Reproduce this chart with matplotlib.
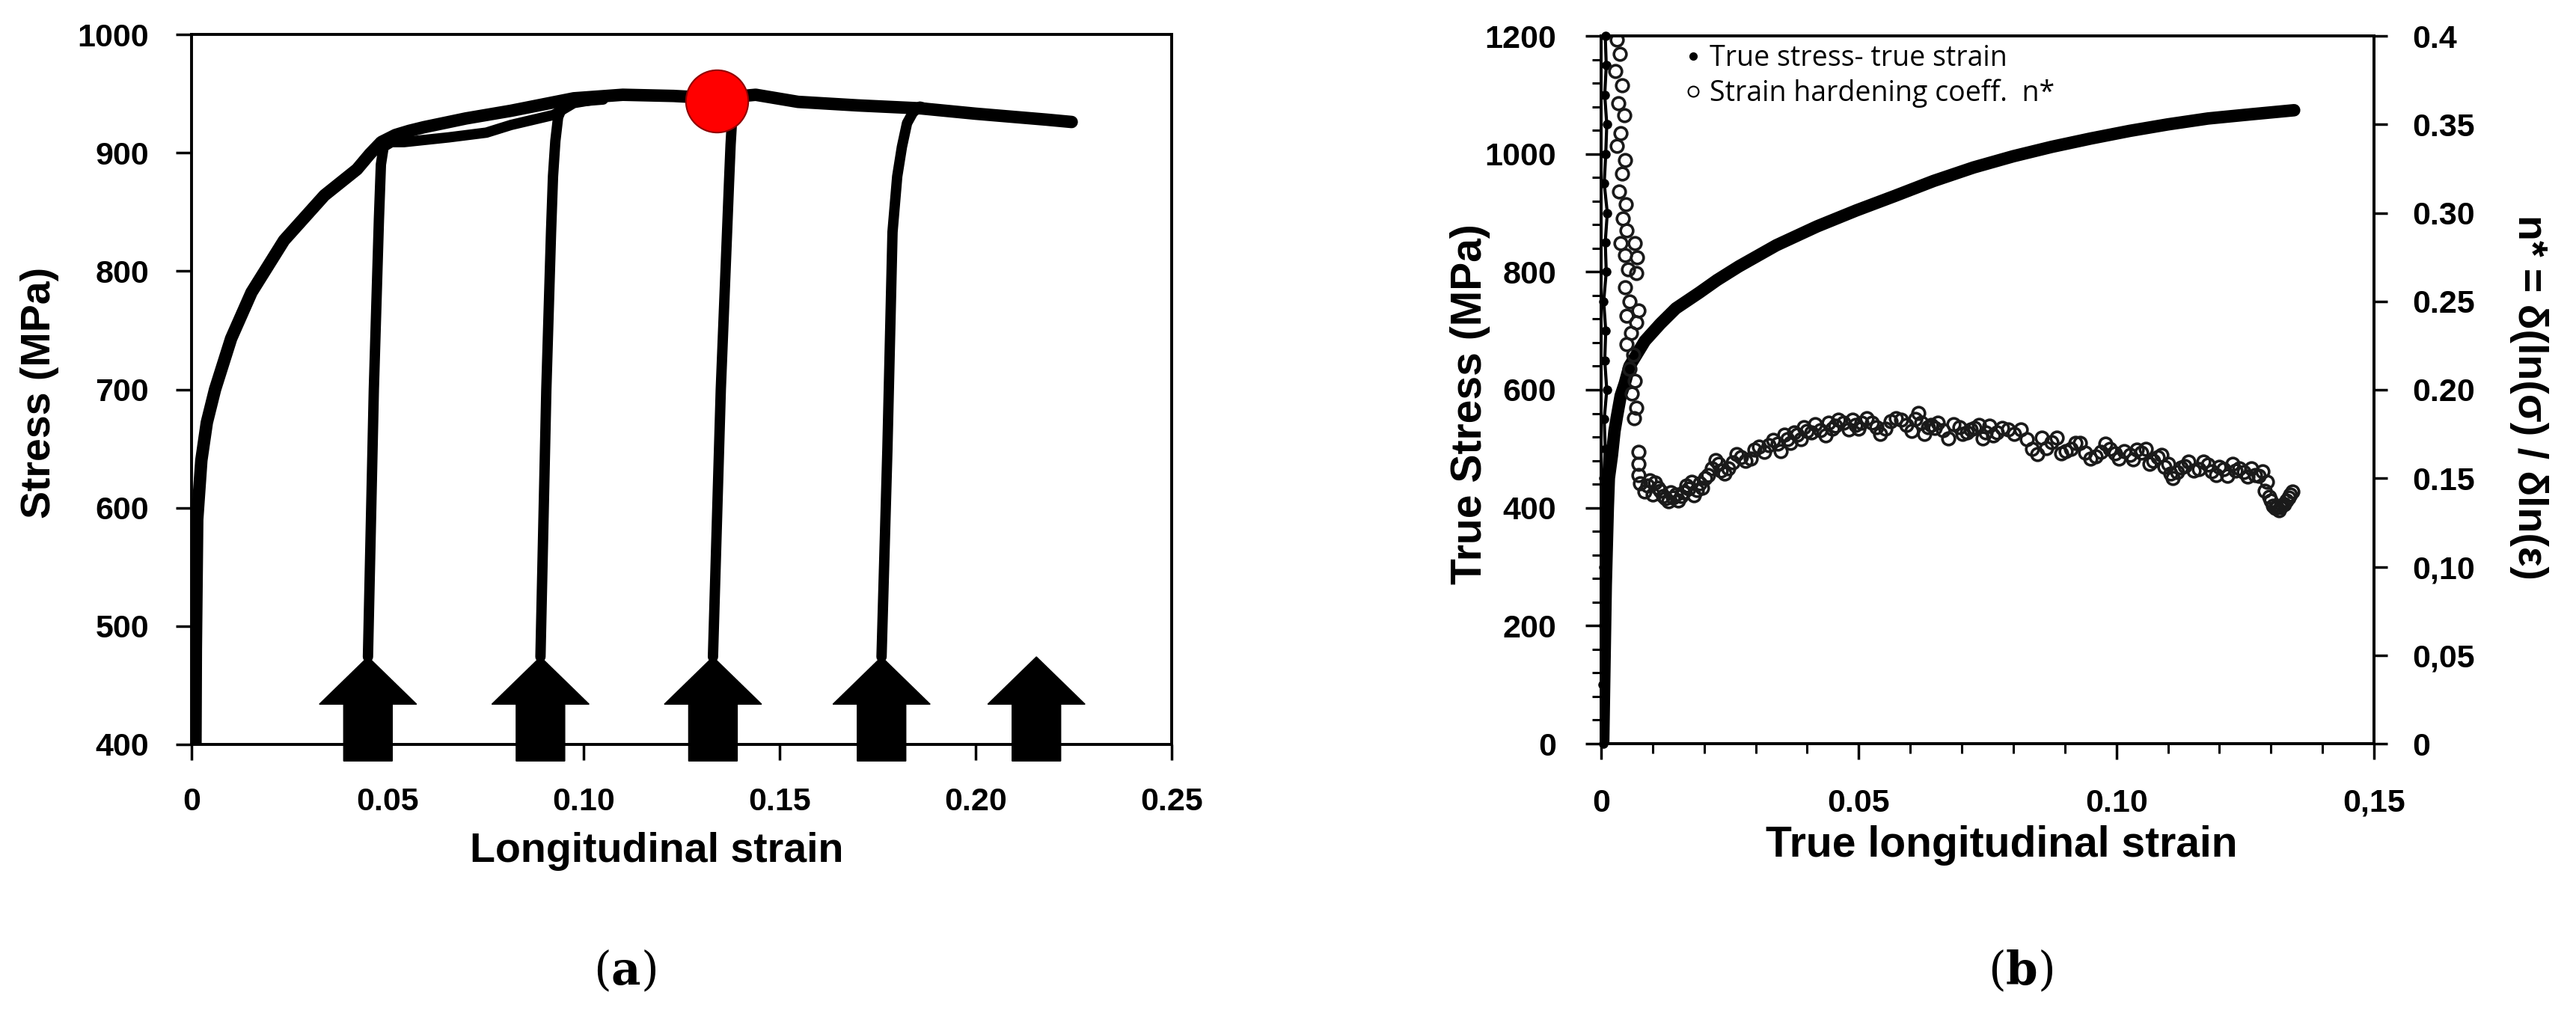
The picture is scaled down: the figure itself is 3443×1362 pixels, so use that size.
import matplotlib; matplotlib.use("Agg")
import matplotlib.pyplot as plt
from matplotlib.lines import Line2D
from matplotlib.ticker import MultipleLocator

# ── Panel (a): interrupted tensile test ─────────────────────────────────────
mono_strain = [0.001, 0.0011, 0.00145, 0.0025, 0.0039, 0.006, 0.0101, 0.0153, 0.0236,
               0.0339, 0.0422, 0.0455, 0.0484, 0.052, 0.0555, 0.0593, 0.0700, 0.0815,
               0.0975, 0.110, 0.123, 0.134, 0.1439, 0.1547, 0.170, 0.186, 0.200, 0.218,
               0.2245]
mono_stress = [400, 480, 590, 640, 672, 700, 743, 782, 826,
               864, 886, 899, 909, 915, 918.5, 921.6, 929, 935.5,
               946, 949, 948, 946, 949, 943, 940, 937.5, 933, 928,
               926]

unload1_strain = [0.045, 0.0465, 0.0478, 0.0483, 0.0490, 0.0510, 0.0542, 0.0656, 0.0752,
                  0.0815, 0.0924, 0.0975, 0.103]
unload1_stress = [474, 700, 844, 890, 905, 909, 909, 913, 917, 923.5, 932, 942, 945]
unload2_strain = [0.089, 0.0905, 0.0917, 0.0922, 0.0928, 0.0935, 0.0945, 0.0975, 0.105]
unload2_stress = [474, 700, 833, 880, 910, 930, 938, 943, 945]
unload3_strain = [0.133, 0.135, 0.1366, 0.1371, 0.1375, 0.1380]
unload3_stress = [474, 700, 833, 875, 907, 935]
unload4_strain = [0.176, 0.1775, 0.1788, 0.1800, 0.1812, 0.1825, 0.1840, 0.1858, 0.1880]
unload4_stress = [474, 650, 833, 880, 905, 925, 934, 939, 937]

arrow_strain = [0.045, 0.089, 0.133, 0.176, 0.2155]
peak_strain = 0.134
peak_stress = 944

a_xticks = [0, 0.05, 0.10, 0.15, 0.20, 0.25]
a_xlabels = ["0", "0.05", "0.10", "0.15", "0.20", "0.25"]
a_yticks = [400, 500, 600, 700, 800, 900, 1000]

# ── Panel (b): true stress / strain hardening coefficient ────────────────────
true_strain = [0.0004, 0.0009, 0.0013, 0.0015, 0.0021, 0.0026, 0.0031, 0.0038, 0.0046,
               0.0055, 0.0069, 0.0085, 0.0115, 0.0145, 0.0191, 0.0225, 0.0267, 0.0340,
               0.0419, 0.0495, 0.0571, 0.0645, 0.0723, 0.0800, 0.0875, 0.0950, 0.1026,
               0.1100, 0.1178, 0.1260, 0.1345]
true_stress = [0, 269, 401, 450, 489, 530, 556, 590, 611,
               640, 660, 683, 712, 738, 765, 786, 809, 845,
               877, 904, 929, 954, 977, 996, 1012, 1026, 1039,
               1050, 1060, 1067, 1074]

elastic_strain = [0.0004, 0.0006, 0.0003, 0.0008, 0.0005, 0.0009, 0.0004, 0.0007, 0.0010,
                  0.0005, 0.0008, 0.0006, 0.0011, 0.0007, 0.0009, 0.0005, 0.0010, 0.0008,
                  0.0012, 0.0006, 0.0009, 0.0011, 0.0007, 0.0010, 0.0008]
elastic_stress = [0, 50, 100, 150, 200, 250, 300, 350, 400, 450, 500, 550, 600, 650, 700,
                  750, 800, 850, 900, 950, 1000, 1050, 1100, 1150, 1200]

nstar_strain = [
    # scatter at the very start
    0.0030, 0.0036, 0.0028, 0.0040, 0.0033, 0.0045, 0.0038, 0.0030, 0.0046, 0.0040,
    0.0035, 0.0048, 0.0042, 0.0050, 0.0038, 0.0046, 0.0065, 0.0070, 0.0052, 0.0068,
    0.0047, 0.0055, 0.0072, 0.0050, 0.0068, 0.0058, 0.0050, 0.0062, 0.0055, 0.0065,
    0.0060, 0.0068, 0.0064,
    # main band
    0.0072, 0.0072, 0.0072, 0.0075, 0.0084, 0.0095, 0.0105, 0.0115, 0.0125, 0.0135,
    0.0145, 0.0155, 0.0165, 0.0175, 0.0186, 0.0196, 0.0208, 0.0222, 0.0232, 0.0247,
    0.0263, 0.0280, 0.0298, 0.0316, 0.0334, 0.0349, 0.0362, 0.0374, 0.0388, 0.0400,
    0.0415, 0.0435, 0.0448, 0.0461, 0.0481, 0.0494, 0.0506, 0.0526, 0.0542, 0.0562,
    0.0583, 0.0603, 0.0616, 0.0628, 0.0640, 0.0654, 0.0674, 0.0695, 0.0710, 0.0725,
    0.0740, 0.0754, 0.0768, 0.0790, 0.0814, 0.0837, 0.0855, 0.0874, 0.0893, 0.0912,
    0.0930, 0.0950, 0.0970, 0.0988, 0.1005, 0.1026, 0.1040, 0.1057, 0.1072, 0.1087,
    0.1100, 0.1110, 0.1125, 0.1140, 0.1160, 0.1178, 0.1193, 0.1208, 0.1225, 0.1239,
    0.1255, 0.1269, 0.1284, 0.1292, 0.1300, 0.1308, 0.1315, 0.1322, 0.1330, 0.1338,
    # overlapping circles along the wavy band
    0.0090, 0.0100, 0.0110, 0.0120, 0.0130, 0.0140, 0.0150, 0.0160, 0.0170, 0.0180,
    0.0191, 0.0202, 0.0215, 0.0228, 0.0240, 0.0255, 0.0272, 0.0290, 0.0307, 0.0325,
    0.0342, 0.0356, 0.0368, 0.0381, 0.0394, 0.0408, 0.0425, 0.0442, 0.0455, 0.0471,
    0.0488, 0.0500, 0.0516, 0.0534, 0.0552, 0.0572, 0.0593, 0.0610, 0.0622, 0.0634,
    0.0647, 0.0664, 0.0684, 0.0702, 0.0718, 0.0733, 0.0747, 0.0761, 0.0779, 0.0802,
    0.0826, 0.0846, 0.0864, 0.0884, 0.0902, 0.0921, 0.0940, 0.0960, 0.0979, 0.0997,
    0.1015, 0.1033, 0.1048, 0.1064, 0.1080, 0.1094, 0.1105, 0.1118, 0.1132, 0.1150,
    0.1169, 0.1185, 0.1200, 0.1216, 0.1232, 0.1247, 0.1262, 0.1277, 0.1288, 0.1296,
    0.1304, 0.1311, 0.1319, 0.1326, 0.1334, 0.1342]
nstar_val = [
    0.398, 0.390, 0.380, 0.372, 0.362, 0.355, 0.345, 0.338, 0.330, 0.322,
    0.312, 0.305, 0.297, 0.290, 0.283, 0.276, 0.283, 0.275, 0.268, 0.266,
    0.258, 0.250, 0.245, 0.242, 0.238, 0.232, 0.226, 0.220, 0.212, 0.205,
    0.198, 0.190, 0.184,
    0.165, 0.158, 0.152, 0.147, 0.1425, 0.149, 0.1475, 0.143, 0.1387, 0.142,
    0.141, 0.140, 0.146, 0.1482, 0.1433, 0.1445, 0.152, 0.1604, 0.1545, 0.1556,
    0.1636, 0.160, 0.1662, 0.165, 0.1717, 0.1653, 0.172, 0.176, 0.172, 0.1766,
    0.1806, 0.1742, 0.178, 0.1831, 0.1774, 0.180, 0.1814, 0.1814, 0.175, 0.1822,
    0.1831, 0.1768, 0.1871, 0.175, 0.180, 0.1814, 0.1725, 0.179, 0.176, 0.1783,
    0.1725, 0.1797, 0.176, 0.1778, 0.1778, 0.1668, 0.173, 0.1705, 0.164, 0.1668,
    0.170, 0.1613, 0.165, 0.1668, 0.161, 0.1631, 0.166, 0.1668, 0.160, 0.1631,
    0.158, 0.1503, 0.156, 0.1594, 0.155, 0.1576, 0.152, 0.155, 0.158, 0.1557,
    0.151, 0.152, 0.1539, 0.148, 0.1374, 0.133, 0.1319, 0.135, 0.1374, 0.141,
    0.146, 0.141, 0.1445, 0.140, 0.137, 0.139, 0.1375, 0.142, 0.144, 0.1405,
    0.147, 0.150, 0.1555, 0.158, 0.1525, 0.159, 0.162, 0.161, 0.168, 0.1685,
    0.1695, 0.1745, 0.170, 0.1745, 0.179, 0.176, 0.177, 0.1815, 0.1795, 0.1815,
    0.183, 0.178, 0.184, 0.179, 0.178, 0.184, 0.180, 0.1835, 0.1815, 0.179,
    0.1785, 0.177, 0.1805, 0.175, 0.1775, 0.180, 0.176, 0.174, 0.1785, 0.175,
    0.172, 0.1635, 0.167, 0.173, 0.1655, 0.170, 0.1645, 0.1625, 0.1695, 0.164,
    0.1655, 0.1605, 0.1645, 0.158, 0.162, 0.1565, 0.1525, 0.1535, 0.157, 0.1545,
    0.1595, 0.154, 0.1565, 0.1515, 0.1545, 0.1535, 0.1555, 0.1515, 0.143, 0.1395,
    0.1345, 0.1335, 0.1335, 0.1355, 0.139, 0.1425]

b_xticks = [0, 0.05, 0.10, 0.15]
b_xlabels = ["0", "0.05", "0.10", "0,15"]
b_yticks = [0, 200, 400, 600, 800, 1000, 1200]
n_ticks = [0, 0.05, 0.10, 0.15, 0.20, 0.25, 0.30, 0.35, 0.40]
n_labels = ["0", "0,05", "0,10", "0.15", "0.20", "0.25", "0.30", "0.35", "0.4"]

legend_labels = ["True stress- true strain", "Strain hardening coeff.  n*"]

# ── Style ─────────────────────────────────────────────────────────────────────
SANS = "Liberation Sans"
TICK_FS = 31
LABEL_FS = 40
SPINE_W = 2.8
plt.rcParams["mathtext.fontset"] = "dejavuserif"

W, H = 3443, 1362
fig = plt.figure(figsize=(W / 100, H / 100), dpi=100)


def style_ticks(ax):
    for lab in ax.get_xticklabels() + ax.get_yticklabels():
        lab.set_fontfamily(SANS)
        lab.set_fontweight("bold")
        lab.set_fontsize(TICK_FS)
    for s in ax.spines.values():
        s.set_linewidth(SPINE_W)


# ── Panel (a) ─────────────────────────────────────────────────────────────────
ax_a = fig.add_axes([256 / W, 1 - 995 / H, (1566 - 256) / W, (995 - 46) / H])
ax_a.plot(mono_strain, mono_stress, color="k", lw=12, solid_capstyle="round",
          solid_joinstyle="round", zorder=3)
for xs, ys in [(unload1_strain, unload1_stress), (unload2_strain, unload2_stress),
               (unload3_strain, unload3_stress), (unload4_strain, unload4_stress)]:
    ax_a.plot(xs, ys, color="k", lw=10, solid_capstyle="round",
              solid_joinstyle="round", zorder=3)

HEAD_HW, SHAFT_HW = 0.0124, 0.0062
TIP_Y, BASE_Y, BOT_Y = 474, 434, 386
for x in arrow_strain:
    px = [x - SHAFT_HW, x + SHAFT_HW, x + SHAFT_HW, x + HEAD_HW, x, x - HEAD_HW, x - SHAFT_HW]
    py = [BOT_Y, BOT_Y, BASE_Y, BASE_Y, TIP_Y, BASE_Y, BASE_Y]
    ax_a.fill(px, py, color="k", clip_on=False, zorder=4)

ax_a.plot(peak_strain, peak_stress, "o", ms=60, mfc="#ff0000", mec="#900000", mew=1.5,
          zorder=6)

ax_a.set_xlim(0, 0.25)
ax_a.set_ylim(400, 1000)
ax_a.set_xticks(a_xticks, a_xlabels)
ax_a.set_yticks(a_yticks)
ax_a.tick_params(direction="out", length=15, width=2.5, pad=26)
style_ticks(ax_a)
ax_a.set_xlabel("Longitudinal strain", fontfamily=SANS, fontweight="bold", fontsize=LABEL_FS)
ax_a.set_ylabel("Stress (MPa)", fontfamily=SANS, fontweight="bold", fontsize=LABEL_FS)
ax_a.xaxis.label.set_va("center")
ax_a.yaxis.label.set_va("center")
ax_a.xaxis.set_label_coords(0.475, -0.151)
ax_a.yaxis.set_label_coords(-0.155, 0.495)

# ── Panel (b) ─────────────────────────────────────────────────────────────────
ax_b = fig.add_axes([2140 / W, 1 - 994 / H, (3173 - 2140) / W, (994 - 48) / H])
ax_n = ax_b.twinx()

ax_b.plot(true_strain, true_stress, color="k", lw=12, solid_capstyle="round",
          solid_joinstyle="round", zorder=3)
ax_b.plot(elastic_strain, elastic_stress, color="k", lw=3, marker="o", ms=8,
          zorder=3, clip_on=False)
ax_n.plot(nstar_strain, nstar_val, ls="none", marker="o", ms=12, mfc="none",
          mec="#1a1a1a", mew=2.6, zorder=2)

ax_b.set_xlim(0, 0.15)
ax_b.set_ylim(0, 1200)
ax_n.set_ylim(0, 0.4)
ax_b.set_xticks(b_xticks, b_xlabels)
ax_b.set_yticks(b_yticks)
ax_n.set_yticks(n_ticks, n_labels)
ax_b.xaxis.set_minor_locator(MultipleLocator(0.01))
ax_b.yaxis.set_minor_locator(MultipleLocator(40))
ax_b.tick_params(which="major", direction="out", length=15, width=2.5, pad=28)
ax_b.tick_params(which="minor", direction="out", length=9, width=2.2)
ax_n.tick_params(which="major", direction="out", length=13, width=2.5, pad=24)
style_ticks(ax_b)
style_ticks(ax_n)

ax_b.set_xlabel("True longitudinal strain", fontfamily=SANS, fontweight="bold",
                fontsize=LABEL_FS + 1)
ax_b.set_ylabel("True Stress (MPa)", fontfamily=SANS, fontweight="bold",
                fontsize=LABEL_FS + 1)
ax_n.set_ylabel("n* = δ(ln(σ) / δln(ε)", fontfamily=SANS, fontweight="bold",
                fontsize=LABEL_FS, rotation=270)
for lab in (ax_b.xaxis.label, ax_b.yaxis.label, ax_n.yaxis.label):
    lab.set_va("center")
ax_b.xaxis.set_label_coords(0.518, -0.144)
ax_b.yaxis.set_label_coords(-0.169, 0.48)
ax_n.yaxis.set_label_coords(1.20, 0.489)

handles = [Line2D([], [], ls="none", marker="o", color="k", ms=7),
           Line2D([], [], ls="none", marker="o", mfc="none", mec="k", ms=10, mew=1.5)]
ax_n.legend(handles, legend_labels, loc="upper left", bbox_to_anchor=(0.108, 0.988),
            frameon=False, prop={"family": "Open Sans", "size": 27},
            handlelength=0.6, handletextpad=0.3, labelspacing=0.22,
            borderpad=0, borderaxespad=0)

# ── Panel captions ────────────────────────────────────────────────────────────
fig.text(835 / W, 1 - 1299 / H, r"($\mathbf{a}$)", fontfamily="DejaVu Serif",
         fontsize=44, ha="center", va="center")
fig.text(2701 / W, 1 - 1299 / H, r"($\mathbf{b}$)", fontfamily="DejaVu Serif",
         fontsize=44, ha="center", va="center")

fig.savefig("out.png", dpi=100, facecolor="white")
